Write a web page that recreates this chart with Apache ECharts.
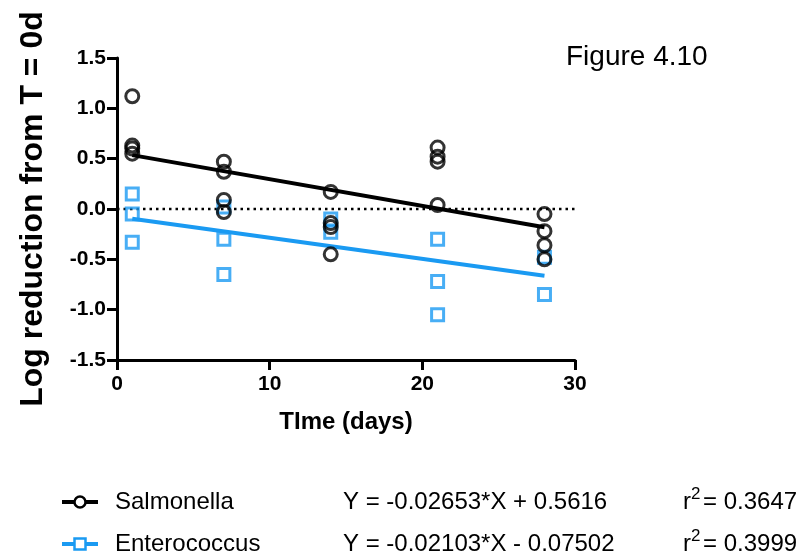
<!DOCTYPE html>
<html>
<head>
<meta charset="utf-8">
<script src="https://cdn.jsdelivr.net/npm/echarts@6/dist/echarts.min.js"></script>
<style>
html,body{margin:0;padding:0;background:#fff;}
#chart{width:808px;height:560px;}
</style>
</head>
<body>
<div id="chart"></div>
<script>
// ---- data ----
var xTicks = [0, 10, 20, 30];
var yTicks = [-1.5, -1.0, -0.5, 0.0, 0.5, 1.0, 1.5];

var salmonellaDays   = [1, 1, 1, 1, 7, 7, 7, 7, 14, 14, 14, 14, 21, 21, 21, 21, 28, 28, 28, 28];
var salmonellaValues = [1.12, 0.63, 0.60, 0.55, 0.47, 0.37, 0.09, -0.03, 0.17, -0.14, -0.18, -0.45, 0.61, 0.52, 0.47, 0.04, -0.05, -0.22, -0.36, -0.50];

var enteroDays   = [1, 1, 1, 7, 7, 7, 14, 14, 21, 21, 21, 28, 28];
var enteroValues = [0.15, -0.05, -0.33, 0.02, -0.30, -0.65, -0.10, -0.23, -0.30, -0.72, -1.05, -0.48, -0.85];

var fitDays = [1, 28];
var salmonellaFit = [0.535, -0.181];
var enteroFit = [-0.096, -0.664];
var zeroLine = [[0, 0], [30, 0]];

var legendNames = ['Salmonella', 'Enterococcus'];
var equations = ['Y = -0.02653*X + 0.5616', 'Y = -0.02103*X - 0.07502'];
var rSquared = ['0.3647', '0.3999'];

// ---- build ----
function pairs(xs, ys) { return xs.map(function (x, i) { return [x, ys[i]]; }); }

var FONT = '"Liberation Sans", Arial, sans-serif';
var BLUE = '#1a9af2';

var chart = echarts.init(document.getElementById('chart'), null, {renderer: 'canvas'});

var legendRows = [502, 544];
var graphics = [
  {type: 'text', x: 566, y: 57, style: {text: 'Figure 4.10', font: '28px ' + FONT, fill: '#000', textVerticalAlign: 'middle'}}
];
legendNames.forEach(function (name, i) {
  var y = legendRows[i];
  var col = i === 0 ? '#000' : BLUE;
  graphics.push({type: 'line', shape: {x1: 62, y1: y, x2: 98, y2: y}, style: {stroke: col, lineWidth: 4}});
  if (i === 0) {
    graphics.push({type: 'circle', shape: {cx: 80, cy: y, r: 5.5}, style: {stroke: col, fill: '#fff', lineWidth: 2.5}});
  } else {
    graphics.push({type: 'rect', shape: {x: 74.5, y: y - 5.5, width: 11, height: 11}, style: {stroke: col, fill: '#fff', lineWidth: 2.5}});
  }
  graphics.push({type: 'text', x: 115, y: y, style: {text: name, font: '24px ' + FONT, fill: '#000', textVerticalAlign: 'middle'}});
  graphics.push({type: 'text', x: 343, y: y, style: {text: equations[i], font: '24px ' + FONT, fill: '#000', textVerticalAlign: 'middle'}});
  graphics.push({type: 'text', x: 683, y: y, style: {text: 'r', font: '24px ' + FONT, fill: '#000', textVerticalAlign: 'middle'}});
  graphics.push({type: 'text', x: 691, y: y - 8, style: {text: '2', font: '17px ' + FONT, fill: '#000', textVerticalAlign: 'middle'}});
  graphics.push({type: 'text', x: 703, y: y, style: {text: '= ' + rSquared[i], font: '24px ' + FONT, fill: '#000', textVerticalAlign: 'middle'}});
});

var option = {
  animation: false,
  backgroundColor: '#fff',
  grid: {left: 117, top: 58, width: 458, height: 302, containLabel: false},
  xAxis: {
    type: 'value', min: 0, max: 30, interval: 10,
    name: 'TIme (days)', nameLocation: 'middle', nameGap: 50,
    nameTextStyle: {fontSize: 24, fontWeight: 'bold', fontFamily: FONT, color: '#000'},
    axisLine: {onZero: false, lineStyle: {color: '#000', width: 3}},
    axisTick: {length: 10, lineStyle: {color: '#000', width: 3}},
    axisLabel: {margin: 14, fontSize: 21, fontWeight: 'bold', fontFamily: FONT, color: '#000',
      formatter: function (v) { return xTicks.indexOf(v) >= 0 ? String(v) : ''; }},
    splitLine: {show: false}
  },
  yAxis: {
    type: 'value', min: -1.5, max: 1.5, interval: 0.5,
    name: 'Log reduction from T = 0d', nameLocation: 'middle', nameGap: 68, nameRotate: 90,
    nameTextStyle: {fontSize: 32, fontWeight: 'bold', fontFamily: FONT, color: '#000'},
    axisLine: {onZero: false, lineStyle: {color: '#000', width: 3}},
    axisTick: {length: 10, lineStyle: {color: '#000', width: 3}},
    axisLabel: {margin: 11, fontSize: 21, fontWeight: 'bold', fontFamily: FONT, color: '#000',
      formatter: function (v) { return yTicks.indexOf(Math.round(v * 10) / 10) >= 0 ? v.toFixed(1) : ''; }},
    splitLine: {show: false}
  },
  graphic: graphics,
  series: [
    {
      type: 'line', data: zeroLine, symbol: 'none', silent: true, z: 1,
      lineStyle: {color: '#000', width: 2.5, type: [2.5, 4]}
    },
    {
      name: 'Enterococcus fit', type: 'line', data: pairs(fitDays, enteroFit), symbol: 'none', z: 2,
      lineStyle: {color: BLUE, width: 4}
    },
    {
      name: 'Salmonella fit', type: 'line', data: pairs(fitDays, salmonellaFit), symbol: 'none', z: 2,
      lineStyle: {color: '#000', width: 4}
    },
    {
      name: 'Enterococcus', type: 'scatter', data: pairs(enteroDays, enteroValues), z: 3,
      symbol: 'rect', symbolSize: 12,
      itemStyle: {color: 'rgba(0,0,0,0)', borderColor: BLUE, borderWidth: 3}
    },
    {
      name: 'Salmonella', type: 'scatter', data: pairs(salmonellaDays, salmonellaValues), z: 4,
      symbol: 'circle', symbolSize: 13,
      itemStyle: {color: 'rgba(0,0,0,0)', borderColor: '#000', borderWidth: 3}
    }
  ]
};
chart.setOption(option);
</script>
</body>
</html>
